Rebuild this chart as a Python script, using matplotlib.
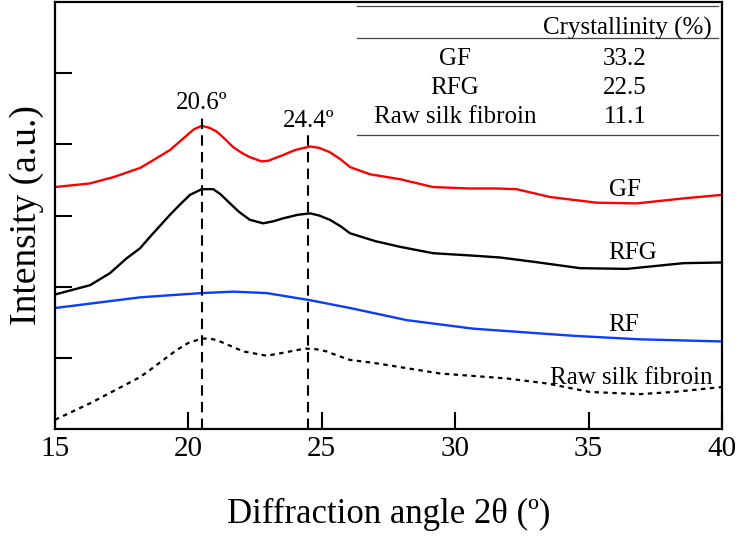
import matplotlib
matplotlib.use("Agg")
import matplotlib.pyplot as plt

plt.rcParams['font.family'] = ['Liberation Serif', 'DejaVu Serif']

# XRD patterns (offset, arbitrary units)
gf_x = [15, 16.3, 17.2, 18.2, 18.56, 19.31, 19.8, 20.2, 20.5, 20.8, 21.06, 21.3, 21.68, 22.0,
        22.3, 22.75, 23.0, 23.55, 24.0, 24.56, 24.9, 25.3, 25.7, 26.06, 26.8, 27.93, 29.17,
        30.5, 31.5, 32.3, 33.55, 35.3, 36.8, 38.55, 40]
gf_y = [3.40, 3.45, 3.54, 3.67, 3.75, 3.92, 4.08, 4.21, 4.26, 4.23, 4.18, 4.10, 3.96, 3.88,
        3.82, 3.76, 3.77, 3.85, 3.92, 3.97, 3.95, 3.89, 3.79, 3.68, 3.58, 3.51, 3.40,
        3.38, 3.38, 3.37, 3.26, 3.18, 3.17, 3.24, 3.29]

rfg_x = [15, 16.31, 17.06, 17.69, 18.19, 18.56, 19.31, 19.7, 20.06, 20.5, 20.93, 21.2, 21.56,
         21.9, 22.3, 22.8, 23.2, 23.55, 24.1, 24.56, 24.9, 25.3, 25.7, 26.06, 27.0, 27.93,
         29.17, 30.5, 31.68, 32.93, 34.68, 36.43, 38.55, 40]
rfg_y = [1.89, 2.02, 2.19, 2.40, 2.54, 2.70, 3.01, 3.16, 3.29, 3.37, 3.37, 3.30, 3.17,
         3.05, 2.94, 2.89, 2.92, 2.96, 3.01, 3.03, 3.00, 2.94, 2.85, 2.75, 2.64, 2.56,
         2.47, 2.44, 2.41, 2.35, 2.26, 2.25, 2.33, 2.34]

rf_x = [15, 18.19, 18.56, 20.5, 21.68, 22.93, 24.56, 26.06, 28.18, 30.67, 34.42, 36.93, 40]
rf_y = [1.70, 1.85, 1.86, 1.91, 1.93, 1.91, 1.81, 1.70, 1.53, 1.41, 1.31, 1.26, 1.23]

raw_x = [15, 16.31, 18.19, 18.56, 19.56, 20.0, 20.5, 20.8, 21.06, 21.5, 22.06, 22.93, 23.4,
         23.81, 24.37, 24.8, 25.18, 25.6, 26.06, 26.93, 29.43, 31.94, 33.44, 35.05, 36.93,
         38.17, 40]
raw_y = [0.13, 0.36, 0.73, 0.83, 1.11, 1.21, 1.27, 1.27, 1.25, 1.18, 1.09, 1.03, 1.06,
         1.09, 1.13, 1.12, 1.09, 1.03, 0.97, 0.93, 0.78, 0.71, 0.64, 0.52, 0.49,
         0.52, 0.59]

peaks = [20.5, 24.5]
peak_labels = ['20.6º', '24.4º']
peak_tops = [4.38, 4.13]

samples = ['GF', 'RFG', 'Raw silk fibroin']
crystallinity = ['33.2', '22.5', '11.1']

fig = plt.figure(figsize=(7.38, 5.38), dpi=100)
ax = fig.add_axes([55 / 738, 1 - 429 / 538, 667 / 738, 427 / 538])

ax.plot(gf_x, gf_y, color='#ff0000', lw=1.7)
ax.plot(rfg_x, rfg_y, color='black', lw=1.7)
ax.plot(rf_x, rf_y, color='#0a3cff', lw=1.7)
ax.plot(raw_x, raw_y, color='black', lw=1.6, linestyle=(0, (2, 2)))

# peak positions
for p, lab, top in zip(peaks, peak_labels, peak_tops):
    ax.plot([p, p], [0, top], color='black', lw=1.5, linestyle=(0, (5, 3)))
    ax.text(p, top + 0.05, lab, ha='center', va='bottom', fontsize=18)

# curve labels
ax.text(36.35, 3.36, 'GF', ha='center', va='center', fontsize=18)
ax.text(36.65, 2.47, 'RFG', ha='center', va='center', fontsize=18)
ax.text(36.3, 1.46, 'RF', ha='center', va='center', fontsize=18)
ax.text(36.6, 0.72, 'Raw silk fibroin', ha='center', va='center', fontsize=18)

# crystallinity table
for yy in [0.9906, 0.915, 0.6885]:
    ax.plot([0.453, 0.994], [yy, yy], transform=ax.transAxes, color='#444444', lw=0.9)
ax.text(0.8576, 0.939, 'Crystallinity (%)', transform=ax.transAxes,
        ha='center', va='center', fontsize=18)
for i, (s, c) in enumerate(zip(samples, crystallinity)):
    yy = 0.866 - i * 0.068
    ax.text(0.5997, yy, s, transform=ax.transAxes, ha='center', va='center', fontsize=18)
    ax.text(0.8546, yy, c, transform=ax.transAxes, ha='center', va='center', fontsize=18)

ax.set_xlim(15, 40)
ax.set_ylim(0, 6)
ax.set_xticks([15, 20, 25, 30, 35, 40])
ax.set_yticks([1, 2, 3, 4, 5])
ax.set_yticklabels([])
ax.tick_params(direction='in', length=12, width=1.5, labelsize=21, pad=5)
for sp in ax.spines.values():
    sp.set_linewidth(1.6)

ax.set_xlabel('Diffraction angle 2θ (º)', fontsize=25, labelpad=26)
ax.set_ylabel('Intensity (a.u.)', fontsize=27, labelpad=3)

fig.savefig('out.png', dpi=100)
